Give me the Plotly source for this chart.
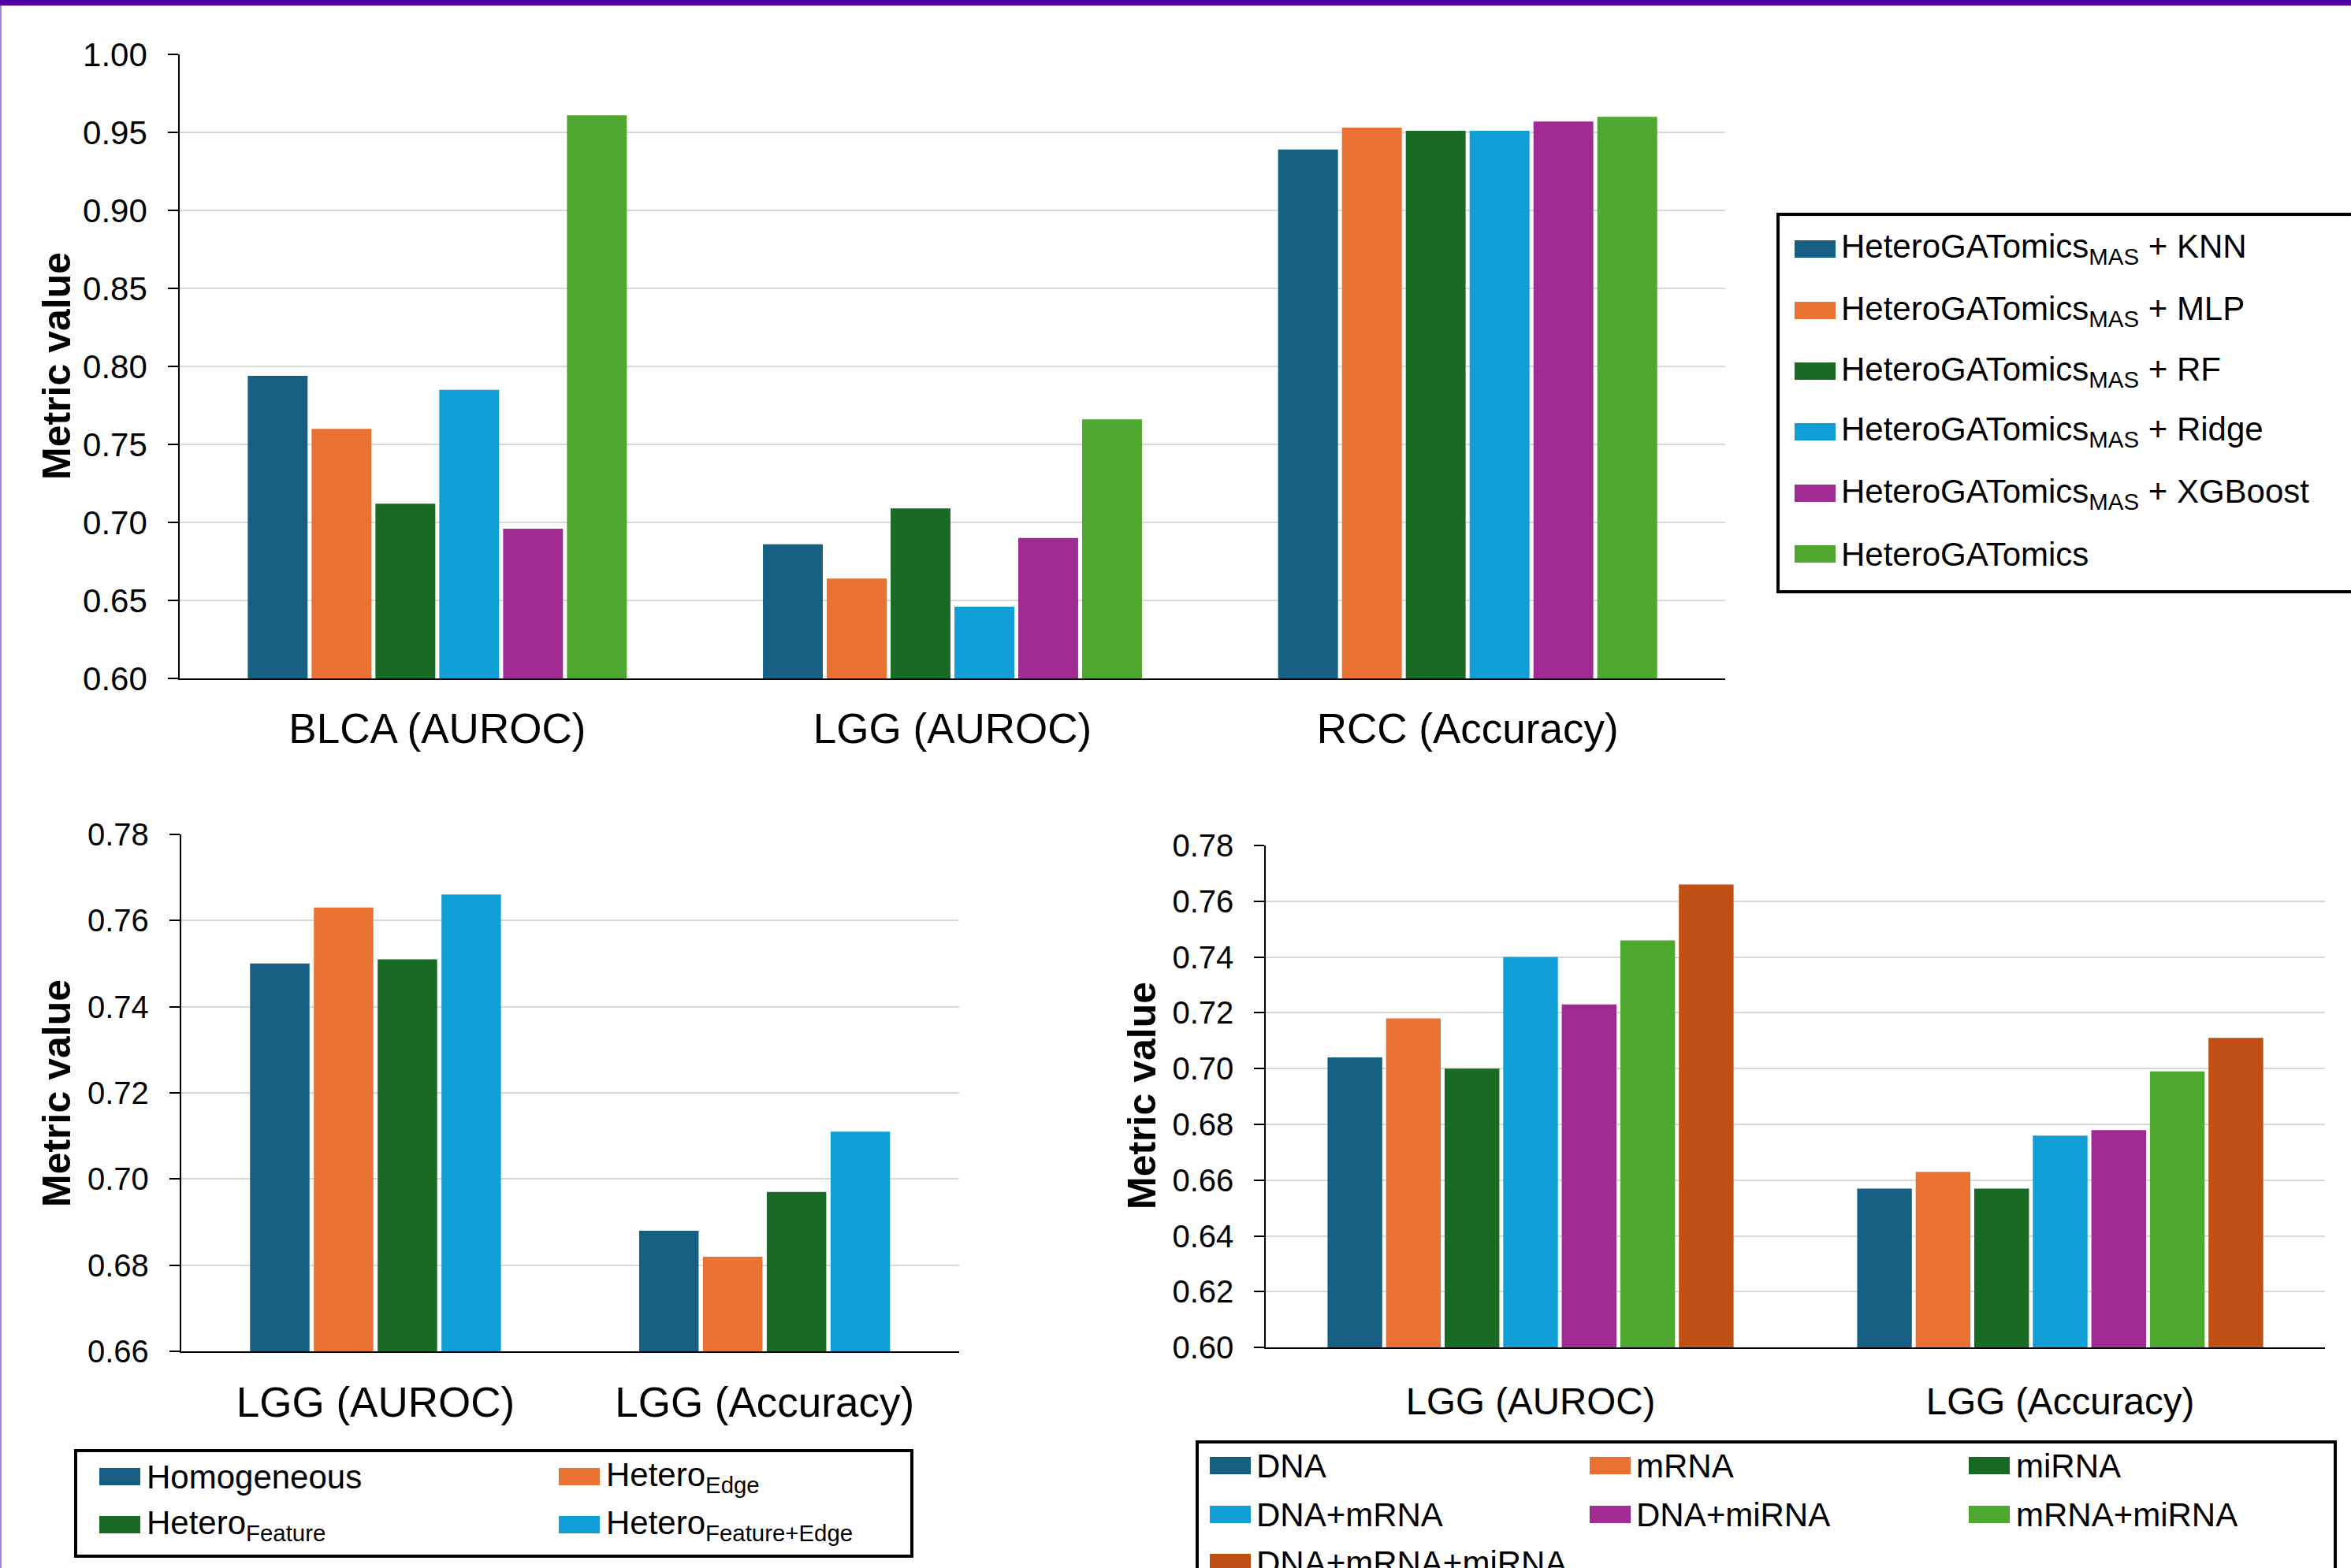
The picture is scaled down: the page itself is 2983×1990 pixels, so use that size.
import plotly.graph_objects as go

W, H = 2983, 1990
FONT = "Liberation Sans, Arial, sans-serif"

# ---------------- DATA ----------------
# Top panel
top_categories = ["BLCA (AUROC)", "LGG (AUROC)", "RCC (Accuracy)"]
top_series = [
    "HeteroGATomics<sub>MAS</sub> + KNN",
    "HeteroGATomics<sub>MAS</sub> + MLP",
    "HeteroGATomics<sub>MAS</sub> + RF",
    "HeteroGATomics<sub>MAS</sub> + Ridge",
    "HeteroGATomics<sub>MAS</sub> + XGBoost",
    "HeteroGATomics",
]
top_knn = [0.794, 0.686, 0.939]
top_mlp = [0.760, 0.664, 0.953]
top_rf = [0.712, 0.709, 0.951]
top_ridge = [0.785, 0.646, 0.951]
top_xgb = [0.696, 0.690, 0.957]
top_hgat = [0.961, 0.766, 0.960]
top_ticks = [0.60, 0.65, 0.70, 0.75, 0.80, 0.85, 0.90, 0.95, 1.00]

# Bottom-left panel
bl_categories = ["LGG (AUROC)", "LGG (Accuracy)"]
bl_series = ["Homogeneous", "Hetero<sub>Edge</sub>", "Hetero<sub>Feature</sub>",
             "Hetero<sub>Feature+Edge</sub>"]
bl_homo = [0.750, 0.688]
bl_edge = [0.763, 0.682]
bl_feature = [0.751, 0.697]
bl_feature_edge = [0.766, 0.711]
bl_ticks = [0.66, 0.68, 0.70, 0.72, 0.74, 0.76, 0.78]

# Bottom-right panel
br_categories = ["LGG (AUROC)", "LGG (Accuracy)"]
br_series = ["DNA", "mRNA", "miRNA", "DNA+mRNA", "DNA+miRNA", "mRNA+miRNA", "DNA+mRNA+miRNA"]
br_dna = [0.704, 0.657]
br_mrna = [0.718, 0.663]
br_mirna = [0.700, 0.657]
br_dna_mrna = [0.740, 0.676]
br_dna_mirna = [0.723, 0.678]
br_mrna_mirna = [0.746, 0.699]
br_all = [0.766, 0.711]
br_ticks = [0.60, 0.62, 0.64, 0.66, 0.68, 0.70, 0.72, 0.74, 0.76, 0.78]

# ---------------- STYLE ----------------
C = ["#156082", "#E97132", "#196B24", "#0F9ED5", "#A02B93", "#4EA72E", "#C04F15"]


def px(x):
    return x / W


def py(y):
    return 1 - y / H


fig = go.Figure()


def add_group(cats, series_vals, names, colors, xa, ya, group_frac, bar_frac):
    n = len(series_vals)
    pitch = group_frac / n
    width = pitch * bar_frac
    for i, (vals, name, col) in enumerate(zip(series_vals, names, colors)):
        off = -group_frac / 2 + i * pitch + (pitch - width) / 2
        fig.add_trace(go.Bar(
            x=cats, y=vals, name=name, xaxis=xa, yaxis=ya,
            marker=dict(color=col, line=dict(width=0)),
            width=width, offset=off, showlegend=False,
        ))


add_group(top_categories, [top_knn, top_mlp, top_rf, top_ridge, top_xgb, top_hgat],
          top_series, C[:6], "x", "y", 0.7435, 0.9375)
add_group(bl_categories, [bl_homo, bl_edge, bl_feature, bl_feature_edge],
          bl_series, C[:4], "x2", "y2", 0.656, 0.932)
add_group(br_categories, [br_dna, br_mrna, br_mirna, br_dna_mrna, br_dna_mirna, br_mrna_mirna, br_all],
          br_series, C[:7], "x3", "y3", 0.774, 0.934)


def xaxis(domain, anchor, fsize, standoff):
    return dict(domain=domain, anchor=anchor, showline=True, linecolor="#000000", linewidth=1.5,
                ticks="", showgrid=False, automargin=False,
                tickfont=dict(family=FONT, size=fsize, color="#000000"),
                ticklabelstandoff=standoff, fixedrange=True)


def yaxis(domain, anchor, rng, ticks, fsize):
    return dict(domain=domain, anchor=anchor, range=rng, tickvals=ticks, tickformat=".2f",
                showline=True, linecolor="#000000", linewidth=1.5, automargin=False,
                ticks="outside", ticklen=13, tickwidth=1.5, tickcolor="#000000",
                showgrid=True, gridcolor="#D9D9D9", gridwidth=1.5, zeroline=False,
                tickfont=dict(family=FONT, size=fsize, color="#000000"),
                ticklabelstandoff=18, fixedrange=True)


shapes = []
annotations = []

# frame decorations
shapes.append(dict(type="rect", xref="paper", yref="paper", x0=0, x1=1, y0=py(7), y1=1.0,
                   fillcolor="#5000A0", line=dict(width=0), layer="above"))
shapes.append(dict(type="line", xref="paper", yref="paper", x0=px(1), x1=px(1), y0=0, y1=py(7),
                   line=dict(color="#A784DA", width=2), layer="above"))


def legend_box(x0, y0, x1, y1):
    shapes.append(dict(type="rect", xref="paper", yref="paper", x0=px(x0), x1=px(x1),
                       y0=py(y1), y1=py(y0), line=dict(color="#000000", width=4),
                       fillcolor="rgba(0,0,0,0)", layer="above"))


def legend_item(sx, cy, color, text, tx, fsize=42):
    shapes.append(dict(type="rect", xref="paper", yref="paper", x0=px(sx), x1=px(sx + 52),
                       y0=py(cy + 11), y1=py(cy - 11), fillcolor=color, line=dict(width=0),
                       layer="above"))
    annotations.append(dict(xref="paper", yref="paper", x=px(tx), y=py(cy), xanchor="left",
                            yanchor="middle", text=text, showarrow=False,
                            font=dict(family=FONT, size=fsize, color="#000000")))


# top legend
legend_box(2256, 272, 3010, 751)
top_rows = [316, 394, 471, 548, 626, 703]
for name, col, cy in zip(top_series, C[:6], top_rows):
    legend_item(2277, cy, col, name, 2334)

# bottom-left legend
legend_box(96, 1841, 1157, 1975)
bl_pos = [(126, 1874, 184), (709, 1874, 767), (126, 1935, 184), (709, 1935, 767)]
for name, col, (sx, cy, tx) in zip(bl_series, C[:4], bl_pos):
    legend_item(sx, cy, col, name, tx)

# bottom-right legend
legend_box(1519, 1830, 2963, 2030)
br_cols = [(1535, 1592), (2017, 2074), (2498, 2556)]
br_rows = [1860, 1922, 1983]
for i, (name, col) in enumerate(zip(br_series, C[:7])):
    sx, tx = br_cols[i % 3]
    cy = br_rows[i // 3]
    legend_item(sx, cy, col, name, tx)

# y-axis titles
for x, y in [(72, 465), (72, 1388), (1449, 1391)]:
    annotations.append(dict(xref="paper", yref="paper", x=px(x), y=py(y), xanchor="center",
                            yanchor="middle", text="<b>Metric value</b>", textangle=-90,
                            showarrow=False,
                            font=dict(family=FONT, size=50, color="#000000")))

fig.update_layout(
    template="none",
    width=W, height=H,
    margin=dict(l=0, r=0, t=0, b=0, autoexpand=False),
    paper_bgcolor="#FFFFFF", plot_bgcolor="#FFFFFF",
    barmode="group", showlegend=False,
    font=dict(family=FONT, color="#000000"),
    xaxis=xaxis([px(228), px(2189)], "y", 53, 17),
    yaxis=yaxis([py(861), py(69)], "x", [0.60, 1.00], top_ticks, 42),
    xaxis2=xaxis([px(229.6), px(1217)], "y2", 53, 17),
    yaxis2=yaxis([py(1715.3), py(1058.7)], "x2", [0.66, 0.78], bl_ticks, 40),
    xaxis3=xaxis([px(1606), px(2950)], "y3", 47.5, 26),
    yaxis3=yaxis([py(1710.3), py(1073)], "x3", [0.60, 0.78], br_ticks, 40),
    shapes=shapes,
    annotations=annotations,
)

fig.write_html("out.html", config={"displayModeBar": False},
               post_script="document.body.style.margin='0';document.body.style.overflow='hidden';")
